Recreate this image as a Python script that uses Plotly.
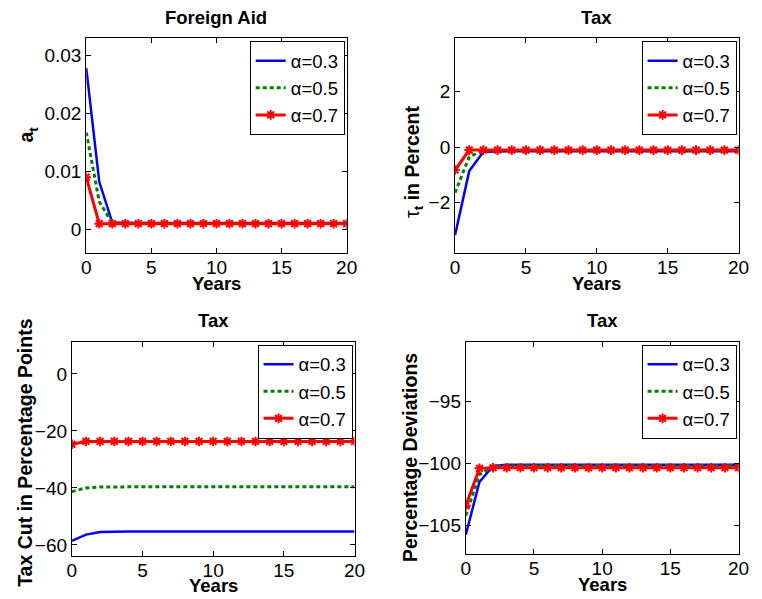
import plotly.graph_objects as go

years = list(range(21))
labels = ["α=0.3", "α=0.5", "α=0.7"]

# Panel 1: Foreign Aid a_t
aid_03 = [0.0278, 0.0082, 0.0012, 0.0011, 0.0011, 0.0011, 0.0011, 0.0011, 0.0011, 0.0011, 0.0011,
          0.0011, 0.0011, 0.0011, 0.0011, 0.0011, 0.0011, 0.0011, 0.0011, 0.0011, 0.0011]
aid_05 = [0.0167, 0.0048, 0.0011, 0.00105, 0.00105, 0.00105, 0.00105, 0.00105, 0.00105, 0.00105, 0.00105,
          0.00105, 0.00105, 0.00105, 0.00105, 0.00105, 0.00105, 0.00105, 0.00105, 0.00105, 0.00105]
aid_07 = [0.0090, 0.0010, 0.0010, 0.0010, 0.0010, 0.0010, 0.0010, 0.0010, 0.0010, 0.0010, 0.0010,
          0.0010, 0.0010, 0.0010, 0.0010, 0.0010, 0.0010, 0.0010, 0.0010, 0.0010, 0.0010]

# Panel 2: tau_t in percent
tau_03 = [-3.18, -0.87, -0.17, -0.15, -0.15, -0.15, -0.15, -0.15, -0.15, -0.15, -0.15,
          -0.15, -0.15, -0.15, -0.15, -0.15, -0.15, -0.15, -0.15, -0.15, -0.15]
tau_05 = [-1.65, -0.35, -0.13, -0.12, -0.12, -0.12, -0.12, -0.12, -0.12, -0.12, -0.12,
          -0.12, -0.12, -0.12, -0.12, -0.12, -0.12, -0.12, -0.12, -0.12, -0.12]
tau_07 = [-0.83, -0.11, -0.11, -0.11, -0.11, -0.11, -0.11, -0.11, -0.11, -0.11, -0.11,
          -0.11, -0.11, -0.11, -0.11, -0.11, -0.11, -0.11, -0.11, -0.11, -0.11]

# Panel 3: tax cut in percentage points
cut_03 = [-58.6, -56.4, -55.5, -55.3, -55.3, -55.3, -55.3, -55.3, -55.3, -55.3, -55.3,
          -55.3, -55.3, -55.3, -55.3, -55.3, -55.3, -55.3, -55.3, -55.3, -55.3]
cut_05 = [-41.3, -40.0, -39.7, -39.6, -39.6, -39.6, -39.6, -39.6, -39.6, -39.6, -39.6,
          -39.6, -39.6, -39.6, -39.6, -39.6, -39.6, -39.6, -39.6, -39.6, -39.6]
cut_07 = [-24.7, -23.7, -23.7, -23.7, -23.7, -23.7, -23.7, -23.7, -23.7, -23.7, -23.7,
          -23.7, -23.7, -23.7, -23.7, -23.7, -23.7, -23.7, -23.7, -23.7, -23.7]

# Panel 4: percentage deviations
dev_03 = [-105.75, -101.5, -100.2, -100.1, -100.1, -100.1, -100.1, -100.1, -100.1, -100.1, -100.1,
          -100.1, -100.1, -100.1, -100.1, -100.1, -100.1, -100.1, -100.1, -100.1, -100.1]
dev_05 = [-104.2, -100.9, -100.25, -100.2, -100.2, -100.2, -100.2, -100.2, -100.2, -100.2, -100.2,
          -100.2, -100.2, -100.2, -100.2, -100.2, -100.2, -100.2, -100.2, -100.2, -100.2]
dev_07 = [-103.4, -100.4, -100.35, -100.35, -100.35, -100.35, -100.35, -100.35, -100.35, -100.35, -100.35,
          -100.35, -100.35, -100.35, -100.35, -100.35, -100.35, -100.35, -100.35, -100.35, -100.35]

panels = [
    dict(series=[aid_03, aid_05, aid_07], title="Foreign Aid",
         ylabel="<b>a</b><sub><b>t</b></sub>", yoff=60, ylab_y=134,
         xdom=[0.1089, 0.458], ydom=[0.5771, 0.9361], yrange=[-0.0041, 0.0329],
         yticks=[0, 0.01, 0.02, 0.03], ytext=["0", "0.01", "0.02", "0.03"]),
    dict(series=[tau_03, tau_05, tau_07], title="Tax",
         ylabel="τ<sub><b>t</b></sub><b> in Percent</b>", yoff=43, ylab_y=162,
         xdom=[0.6033, 0.9833], ydom=[0.5771, 0.9361], yrange=[-3.84, 3.93],
         yticks=[-2, 0, 2], ytext=["\u22122", "0", "2"]),
    dict(series=[cut_03, cut_05, cut_07], title="Tax",
         ylabel="<b>Tax Cut in Percentage Points</b>", yoff=48, ylab_y=452,
         xdom=[0.0896, 0.4685], ydom=[0.0718, 0.4295], yrange=[-63.9, 11.3],
         yticks=[-60, -40, -20, 0], ytext=["\u221260", "\u221240", "\u221220", "0"]),
    dict(series=[dev_03, dev_05, dev_07], title="Tax",
         ylabel="<b>Percentage Deviations</b>", yoff=57, ylab_y=458,
         xdom=[0.6177, 0.9833], ydom=[0.0751, 0.4295], yrange=[-107.3, -90.2],
         yticks=[-105, -100, -95], ytext=["\u2212105", "\u2212100", "\u221295"]),
]

FONT = "Liberation Sans, Arial, sans-serif"
styles = [
    dict(line=dict(color="#0000ff", width=2.5), mode="lines"),
    dict(line=dict(color="#008000", width=3, dash="4px,3px"), mode="lines"),
    dict(line=dict(color="#ff0000", width=3), mode="lines+markers",
         marker=dict(symbol="asterisk-open", size=8, color="#ff0000",
                     line=dict(color="#ff0000", width=2))),
]

fig = go.Figure()
annotations = []
W, H = 762, 599
for i, p in enumerate(panels):
    k = "" if i == 0 else str(i + 1)
    leg = "legend" + k
    for s, lab, st in zip(p["series"], labels, styles):
        fig.add_trace(go.Scatter(x=years, y=s, name=lab, xaxis="x" + k, yaxis="y" + k,
                                 legend=leg, **st))
    axcommon = dict(showline=True, linecolor="black", linewidth=1, mirror="ticks",
                    ticks="inside", ticklen=5, tickcolor="black", showgrid=False,
                    zeroline=False, tickfont=dict(family=FONT, size=19, color="black"))
    fig.layout["xaxis" + k] = dict(domain=p["xdom"], anchor="y" + k, range=[0, 20],
                                   tickvals=[0, 5, 10, 15, 20], ticklabelstandoff=-3,
                                   **axcommon)
    fig.layout["yaxis" + k] = dict(domain=p["ydom"], anchor="x" + k, range=p["yrange"],
                                   tickvals=p["yticks"], ticktext=p["ytext"], **axcommon)
    fig.layout[leg] = dict(x=p["xdom"][1] - 2 / W, y=p["ydom"][1] - 3 / H,
                           xanchor="right", yanchor="top", bgcolor="white",
                           bordercolor="black", borderwidth=1, itemwidth=30,
                           font=dict(family=FONT, size=18.5, color="black"))
    xc = (p["xdom"][0] + p["xdom"][1]) / 2
    annotations.append(dict(text="<b>" + p["title"] + "</b>", x=xc, y=p["ydom"][1] + 21 / H,
                            xref="paper", yref="paper", xanchor="center", yanchor="middle",
                            showarrow=False, font=dict(family=FONT, size=18.5, color="black")))
    annotations.append(dict(text="<b>Years</b>", x=xc, y=p["ydom"][0] - 30 / H,
                            xref="paper", yref="paper", xanchor="center", yanchor="middle",
                            showarrow=False, font=dict(family=FONT, size=18.5, color="black")))
    annotations.append(dict(text=p["ylabel"], x=p["xdom"][0] - p["yoff"] / W,
                            y=1 - p["ylab_y"] / H, xref="paper", yref="paper", xanchor="center",
                            yanchor="middle", textangle=-90, showarrow=False,
                            font=dict(family=FONT, size=19.5, color="black")))

fig.update_layout(width=W, height=H, margin=dict(l=0, r=0, t=0, b=0),
                  paper_bgcolor="white", plot_bgcolor="white",
                  annotations=annotations, showlegend=True)
fig.write_html("out.html")
